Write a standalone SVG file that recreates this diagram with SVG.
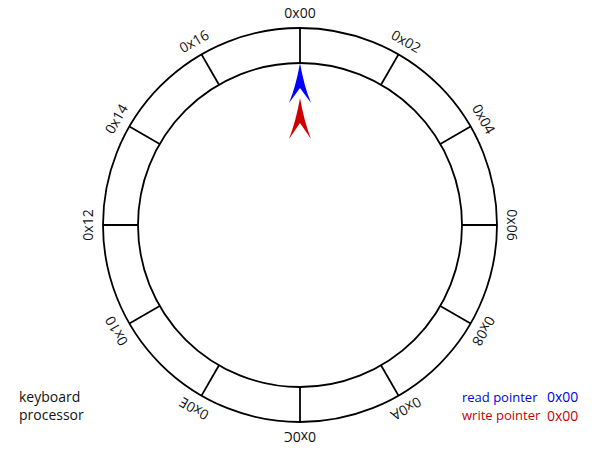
<svg xmlns="http://www.w3.org/2000/svg" width="600" height="450" viewBox="0 0 600 450">
<style>
.ring{fill:none;stroke:#000;stroke-width:1.8}
.div{stroke:#000;stroke-width:1.8}
.lbl{font-family:"Open Sans","Noto Sans",sans-serif;font-size:14px;fill:#111;text-anchor:middle}
.txt{font-family:"Open Sans","Noto Sans",sans-serif;font-size:14px;fill:#111}
.leg{font-family:"Open Sans","Noto Sans",sans-serif;font-size:13px}
.val{font-family:"Open Sans","Noto Sans",sans-serif;font-size:14px}
</style>
<rect width="600" height="450" fill="#fff"/>
<g id="buffer">
<circle class="ring" cx="300" cy="225" r="197"/>
<circle class="ring" cx="300" cy="225" r="162"/>
</g>
<g id="dividers">
<line class="div" x1="300" y1="28" x2="300" y2="63" transform="rotate(0 300 225)"/>
<line class="div" x1="300" y1="28" x2="300" y2="63" transform="rotate(30 300 225)"/>
<line class="div" x1="300" y1="28" x2="300" y2="63" transform="rotate(60 300 225)"/>
<line class="div" x1="300" y1="28" x2="300" y2="63" transform="rotate(90 300 225)"/>
<line class="div" x1="300" y1="28" x2="300" y2="63" transform="rotate(120 300 225)"/>
<line class="div" x1="300" y1="28" x2="300" y2="63" transform="rotate(150 300 225)"/>
<line class="div" x1="300" y1="28" x2="300" y2="63" transform="rotate(180 300 225)"/>
<line class="div" x1="300" y1="28" x2="300" y2="63" transform="rotate(210 300 225)"/>
<line class="div" x1="300" y1="28" x2="300" y2="63" transform="rotate(240 300 225)"/>
<line class="div" x1="300" y1="28" x2="300" y2="63" transform="rotate(270 300 225)"/>
<line class="div" x1="300" y1="28" x2="300" y2="63" transform="rotate(300 300 225)"/>
<line class="div" x1="300" y1="28" x2="300" y2="63" transform="rotate(330 300 225)"/>
</g>
<g id="labels">
<text class="lbl" x="300" y="18" transform="rotate(0 300 225)">0x00</text>
<text class="lbl" x="300" y="18" transform="rotate(30 300 225)">0x02</text>
<text class="lbl" x="300" y="18" transform="rotate(60 300 225)">0x04</text>
<text class="lbl" x="300" y="18" transform="rotate(90 300 225)">0x06</text>
<text class="lbl" x="300" y="18" transform="rotate(120 300 225)">0x08</text>
<text class="lbl" x="300" y="18" transform="rotate(150 300 225)">0x0A</text>
<text class="lbl" x="300" y="18" transform="rotate(180 300 225)">0x0C</text>
<text class="lbl" x="300" y="18" transform="rotate(210 300 225)">0x0E</text>
<text class="lbl" x="300" y="18" transform="rotate(240 300 225)">0x10</text>
<text class="lbl" x="300" y="18" transform="rotate(270 300 225)">0x12</text>
<text class="lbl" x="300" y="18" transform="rotate(300 300 225)">0x14</text>
<text class="lbl" x="300" y="18" transform="rotate(330 300 225)">0x16</text>
</g>
<g id="read-pointer">
<path d="M300,63 Q304,86 311,103 L300,88 L289,103 Q296,86 300,63 Z" fill="#0000ff"/>
</g>
<g id="write-pointer">
<path d="M300,98 Q304,121 311,139 L300,123 L289,139 Q296,121 300,98 Z" fill="#cc0000"/>
</g>
<g id="keyboard-processor">
<text class="txt" x="19" y="402">keyboard</text>
<text class="txt" x="19" y="420">processor</text>
</g>
<g id="legend">
<text class="leg" x="462" y="402" fill="#0000ee">read pointer</text>
<text class="val" x="547" y="402" fill="#0000ee">0x00</text>
<text class="leg" x="462" y="420" fill="#cc0000">write pointer</text>
<text class="val" x="547" y="420.5" fill="#cc0000">0x00</text>
</g>
</svg>
